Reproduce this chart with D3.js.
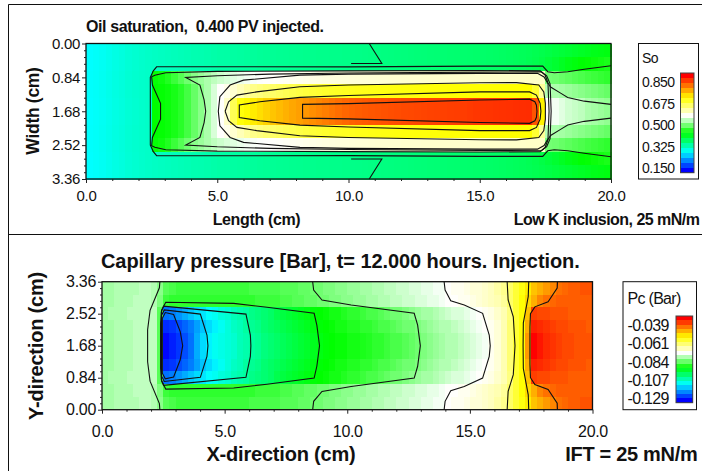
<!DOCTYPE html>
<html>
<head>
<meta charset="utf-8">
<script src="https://d3js.org/d3.v7.min.js"></script>
<style>
  body { margin: 0; background: #fff; }
  svg { display: block; font-family: "Liberation Sans", Arial, sans-serif; }
  text { white-space: pre; fill: #111; }
</style>
</head>
<body>
<script>
const w = 702;
const h = 471;

const xTicks = [0, 5, 10, 15, 20];
const xMinor = [1, 2, 3, 4, 6, 7, 8, 9, 11, 12, 13, 14, 16, 17, 18, 19];
const yTicks = [0, 0.84, 1.68, 2.52, 3.36];
const yMinor = [0.168, 0.336, 0.504, 0.672, 1.008, 1.176, 1.344, 1.512, 1.848, 2.016, 2.184, 2.352, 2.688, 2.856, 3.024, 3.192];

// colour stops
const rampColors = ['#0000ff', '#00ffff', '#00ff00', '#ffffff', '#ffff00', '#ff0000'];
const soStops = [0.112, 0.271, 0.432, 0.577, 0.731, 0.923];
const pcStops = [-0.1345, -0.113, -0.0915, -0.0722, -0.0518, -0.027];
const soLegend = [0.85, 0.675, 0.5, 0.325, 0.15];
const pcLegend = [-0.039, -0.061, -0.084, -0.107, -0.129];

// oil saturation, one array per grid row (80 cells of 0.25 cm), outer row first
const soRow1 = [
  .271,.274,.278,.283,.288,.292,.297,.300,.303,.306,
  .308,.310,.312,.314,.316,.318,.320,.321,.323,.325,
  .327,.328,.330,.331,.333,.334,.336,.337,.338,.339,
  .340,.341,.342,.343,.343,.344,.344,.345,.345,.346,
  .346,.347,.348,.349,.350,.351,.352,.353,.354,.355,
  .356,.357,.358,.359,.360,.361,.362,.363,.364,.365,
  .366,.367,.368,.370,.372,.374,.376,.378,.381,.384,
  .388,.392,.396,.400,.404,.408,.412,.416,.419,.422];
const soRow2 = [
  .271,.274,.278,.283,.288,.292,.297,.300,.303,.306,
  .308,.310,.312,.314,.316,.318,.320,.321,.323,.325,
  .327,.328,.330,.331,.333,.334,.336,.337,.338,.339,
  .340,.341,.342,.343,.343,.344,.344,.345,.345,.346,
  .346,.347,.348,.349,.350,.351,.352,.353,.354,.355,
  .356,.357,.358,.359,.360,.361,.362,.363,.364,.365,
  .366,.367,.368,.370,.372,.374,.376,.379,.383,.388,
  .395,.402,.410,.418,.424,.430,.434,.438,.442,.446];
const soRow3 = [
  .272,.275,.279,.284,.289,.293,.298,.301,.304,.306,
  .435,.440,.450,.465,.480,.495,.510,.520,.530,.540,
  .548,.555,.560,.565,.570,.573,.576,.578,.580,.582,
  .584,.586,.588,.590,.592,.594,.596,.597,.598,.599,
  .600,.601,.602,.603,.604,.604,.605,.605,.606,.606,
  .606,.607,.607,.607,.608,.608,.608,.608,.608,.608,
  .609,.609,.609,.609,.609,.609,.609,.610,.610,.610,
  .498,.495,.490,.485,.480,.475,.470,.466,.462,.458];
const soRow4 = [
  .272,.275,.279,.284,.289,.293,.298,.301,.304,.306,
  .432,.434,.438,.445,.455,.470,.490,.510,.530,.555,
  .578,.590,.605,.620,.635,.648,.655,.662,.668,.674,
  .680,.685,.690,.694,.698,.701,.704,.707,.709,.711,
  .713,.715,.716,.718,.719,.720,.721,.722,.723,.724,
  .725,.725,.726,.727,.727,.728,.728,.729,.729,.730,
  .730,.730,.731,.731,.731,.731,.731,.731,.700,.640,
  .535,.530,.525,.520,.515,.510,.505,.500,.495,.490];
const soRow5 = [
  .271,.274,.278,.283,.288,.292,.297,.300,.303,.306,
  .432,.434,.438,.445,.455,.470,.490,.510,.530,.555,
  .578,.610,.680,.725,.735,.745,.755,.765,.775,.782,
  .790,.797,.803,.810,.816,.822,.828,.834,.840,.846,
  .850,.853,.856,.858,.860,.862,.864,.866,.868,.869,
  .870,.872,.873,.874,.875,.876,.877,.878,.880,.882,
  .883,.884,.885,.886,.887,.888,.889,.890,.860,.740,
  .578,.570,.560,.550,.545,.540,.530,.525,.520,.515];
const soGrid = [soRow1, soRow2, soRow3, soRow4, soRow5, soRow5, soRow4, soRow3, soRow2, soRow1];

// capillary pressure, same grid
const pcRow1 = [
  -.079,-.079,-.078,-.078,-.078,-.078,-.077,-.077,-.078,-.081,
  -.085,-.086,-.087,-.087,-.087,-.087,-.087,-.087,-.087,-.087,
  -.087,-.087,-.087,-.087,-.086,-.086,-.086,-.086,-.086,-.085,
  -.085,-.085,-.084,-.084,-.083,-.083,-.082,-.082,-.081,-.081,
  -.080,-.080,-.079,-.079,-.078,-.078,-.077,-.077,-.076,-.076,
  -.075,-.075,-.074,-.074,-.073,-.073,-.072,-.071,-.071,-.070,
  -.069,-.069,-.068,-.067,-.065,-.063,-.060,-.056,-.053,-.050,
  -.046,-.044,-.042,-.040,-.038,-.037,-.036,-.036,-.035,-.035];
const pcRow2 = [
  -.079,-.079,-.078,-.078,-.078,-.077,-.077,-.077,-.078,-.082,
  -.087,-.088,-.088,-.088,-.088,-.088,-.088,-.088,-.088,-.088,
  -.088,-.088,-.088,-.088,-.088,-.087,-.087,-.087,-.087,-.086,
  -.086,-.085,-.085,-.084,-.084,-.083,-.083,-.082,-.082,-.081,
  -.081,-.080,-.080,-.079,-.079,-.078,-.078,-.077,-.077,-.076,
  -.076,-.075,-.075,-.074,-.074,-.073,-.072,-.072,-.071,-.071,
  -.070,-.069,-.068,-.067,-.066,-.064,-.060,-.056,-.052,-.048,
  -.044,-.040,-.038,-.037,-.036,-.036,-.036,-.036,-.036,-.036];
const pcRow3 = [
  -.079,-.078,-.078,-.078,-.077,-.077,-.077,-.077,-.077,-.085,
  -.125,-.124,-.122,-.120,-.118,-.116,-.115,-.113,-.112,-.110,
  -.109,-.107,-.106,-.105,-.103,-.102,-.101,-.100,-.098,-.097,
  -.096,-.095,-.094,-.093,-.092,-.0915,-.091,-.090,-.090,-.089,
  -.088,-.088,-.087,-.086,-.086,-.085,-.084,-.083,-.083,-.082,
  -.081,-.080,-.079,-.079,-.078,-.077,-.076,-.075,-.075,-.074,
  -.073,-.072,-.071,-.070,-.068,-.066,-.062,-.056,-.052,-.046,
  -.033,-.034,-.034,-.035,-.035,-.035,-.036,-.036,-.036,-.036];
const pcRow4 = [
  -.079,-.079,-.078,-.078,-.078,-.077,-.077,-.077,-.077,-.085,
  -.131,-.130,-.128,-.126,-.124,-.121,-.118,-.116,-.114,-.112,
  -.110,-.108,-.107,-.105,-.104,-.103,-.101,-.100,-.099,-.098,
  -.097,-.096,-.095,-.094,-.093,-.092,-.0915,-.091,-.090,-.090,
  -.089,-.089,-.088,-.088,-.087,-.086,-.086,-.085,-.084,-.083,
  -.083,-.082,-.081,-.080,-.079,-.078,-.078,-.077,-.076,-.075,
  -.074,-.073,-.072,-.071,-.069,-.066,-.061,-.056,-.052,-.044,
  -.030,-.031,-.032,-.033,-.034,-.034,-.035,-.035,-.035,-.036];
const pcRow5 = [
  -.079,-.079,-.078,-.078,-.078,-.077,-.077,-.077,-.077,-.085,
  -.134,-.132,-.130,-.128,-.125,-.120,-.116,-.114,-.112,-.111,
  -.110,-.109,-.107,-.106,-.105,-.104,-.102,-.101,-.100,-.099,
  -.098,-.097,-.096,-.095,-.094,-.093,-.092,-.0915,-.091,-.091,
  -.090,-.090,-.0895,-.089,-.088,-.088,-.087,-.086,-.086,-.085,
  -.084,-.083,-.082,-.081,-.080,-.079,-.078,-.078,-.077,-.076,
  -.075,-.074,-.073,-.071,-.069,-.066,-.061,-.056,-.052,-.042,
  -.027,-.029,-.031,-.032,-.033,-.034,-.034,-.035,-.035,-.035];
const pcGrid = [pcRow1, pcRow2, pcRow3, pcRow4, pcRow5, pcRow5, pcRow4, pcRow3, pcRow2, pcRow1];

// contour lines in cm, half of each line, the other half is its mirror image over y = 1.68
const soLineA = [[20,.553],[18.98,.64],[18.35,.70],[17.84,.727],[17.59,.70],[17.4,.56],[15,.56],[10,.58],[5,.575],[2.69,.578],[2.565,.677],[2.45,.842],[2.45,1.68]];
const soLineB = [[20,1.51],[18.98,1.43],[18.35,1.34],[18.08,1.23],[17.7,1.08],[17.6,.98],[17.49,.785],[17.3,.678],[15,.67],[10,.68],[5,.69],[3.04,.727],[2.62,.785],[2.5,.826],[2.53,1.03],[2.84,1.485],[2.84,1.68]];
const soLineC = [[4.56,1.68],[4.5,1.40],[4.34,1.03],[3.8,.842],[5,.80],[7,.76],[10,.73],[15,.71],[17.35,.70],[17.55,.80],[17.68,1.0],[17.72,1.68]];
const soLineD = [[5.04,1.68],[5.1,1.32],[5.49,1.03],[6,.908],[8.15,.785],[10,.76],[15,.74],[17.2,.74],[17.45,.83],[17.6,1.0],[17.64,1.68]];
const soLineE = [[5.3,1.68],[5.43,1.445],[5.75,1.28],[6.5,1.2],[8.15,1.074],[10,1.03],[15,.975],[16.4,.97],[17.25,1.03],[17.44,1.2],[17.5,1.485],[17.5,1.68]];
const soLineF = [[5.84,1.68],[5.84,1.527],[6.62,1.445],[8.15,1.337],[10,1.29],[15,1.2],[16.9,1.2],[17.16,1.28],[17.3,1.485],[17.33,1.68]];
const soLineG = [[8.25,1.68],[8.25,1.51],[10,1.49],[15,1.4],[16.9,1.38],[17.1,1.445],[17.16,1.53],[17.18,1.68]];
const soWedge = [[10.79,0],[11.27,.495],[10.1,.495]];
const soLines = [soLineA, soLineB, soLineC, soLineD, soLineE, soLineF, soLineG, soWedge];

const pcLine1 = [[2.36,3.36],[2.34,3.2],[1.96,2.61],[1.86,2.1],[1.86,1.68]];
const pcLine2 = [[2.39,1.68],[2.39,2.27],[2.43,2.61],[2.6,2.82],[5.37,2.79],[6.73,2.69],[8.65,2.53],[8.76,2.22],[8.87,1.68]];
const pcLine3 = [[8.59,3.36],[8.63,3.14],[8.97,2.88],[10.16,2.75],[12.73,2.53],[12.87,2.22],[12.98,1.68]];
const pcLine4 = [[2.42,1.68],[2.42,2.57],[2.51,2.72],[5.87,2.51],[6.05,1.96],[6.07,1.68]];
const pcLine5 = [[2.43,1.68],[2.43,2.48],[2.54,2.62],[4.01,2.51],[4.28,1.96],[4.32,1.68]];
const pcLine6 = [[2.46,1.68],[2.46,2.4],[2.58,2.55],[2.92,2.5],[3.19,2.05],[3.29,1.68]];
const pcLine7 = [[13.95,3.36],[13.99,3.14],[14.22,2.86],[14.77,2.75],[15.52,2.53],[15.79,1.96],[15.83,1.68]];
const pcLine8 = [[16.52,3.36],[16.56,2.88],[16.77,2.44],[16.84,1.68]];
const pcLine9 = [[17.4,3.36],[17.38,2.97],[17.18,2.28],[17.17,1.68]];
const pcLine10 = [[18.57,3.36],[18.56,3.19],[18.19,2.83],[17.65,2.7],[17.47,2.52],[17.45,2.17],[17.45,1.68]];
const pcLines = [pcLine1, pcLine2, pcLine3, pcLine4, pcLine5, pcLine6, pcLine7, pcLine8, pcLine9, pcLine10];

let svg = d3.select("body")
  .append("svg")
  .attr("width", w)
  .attr("height", h);

// outer frames of the two panels
svg.append("path")
  .attr("d", "M702,4.5H8.5V471M8.5,234.5H702")
  .attr("fill", "none")
  .attr("stroke", "#111");

let addText = (str, x, y, size, bold, anchor, spacing) => svg.append("text")
  .attr("x", x)
  .attr("y", y)
  .attr("font-size", size)
  .attr("font-weight", bold ? "bold" : "normal")
  .attr("text-anchor", anchor || "start")
  .attr("letter-spacing", spacing || 0)
  .text(str);

let drawPanel = (p) => {
  let xScale = d3.scaleLinear().domain([0, 20]).range([p.left, p.right]);
  let yScale = d3.scaleLinear().domain(p.yDomain).range([p.top, p.bottom]);
  let color = d3.scaleLinear().domain(p.stops).range(rampColors).clamp(true);

  // cells
  let g = svg.append("g").attr("shape-rendering", "crispEdges");
  p.grid.forEach((row, r) => {
    let rowTop = p.yDomain[0] < p.yDomain[1] ? r * 0.336 : 3.36 - r * 0.336;
    let rowEnd = p.yDomain[0] < p.yDomain[1] ? rowTop + 0.336 : rowTop - 0.336;
    g.selectAll(".r" + r)
      .data(row)
      .enter()
      .append("rect")
      .attr("class", "r" + r)
      .attr("x", (d, i) => xScale(i * 0.25))
      .attr("y", yScale(rowTop))
      .attr("width", xScale(0.25) - xScale(0) + 0.6)
      .attr("height", yScale(rowEnd) - yScale(rowTop) + 0.6)
      .attr("fill", (d) => color(d));
  });

  // contour lines, each one with its mirror half
  let line = d3.line().x((d) => xScale(d[0])).y((d) => yScale(d[1]));
  p.lines.forEach((half) => {
    let mirrored = half.map((d) => [d[0], 3.36 - d[1]]);
    let onCentre = half[half.length - 1][1] === 1.68;
    let paths = onCentre ? [half.concat(mirrored.slice().reverse())] : [half, mirrored];
    paths.forEach((pts) => {
      svg.append("path")
        .attr("d", line(pts))
        .attr("fill", "none")
        .attr("stroke", "#111")
        .attr("stroke-width", 1.1);
    });
  });

  svg.append("rect")
    .attr("x", p.left)
    .attr("y", p.top)
    .attr("width", p.right - p.left)
    .attr("height", p.bottom - p.top)
    .attr("fill", "none")
    .attr("stroke", "#111")
    .attr("stroke-width", 1.3);

  // axes
  let xAxis = d3.axisBottom(xScale).tickValues(xTicks).tickSize(4).tickSizeOuter(0).tickPadding(p.xPad).tickFormat(d3.format(".1f"));
  let xAxisG = svg.append("g").attr("transform", "translate(0," + p.bottom + ")").call(xAxis);
  let xMinorG = svg.append("g").attr("transform", "translate(0," + p.bottom + ")")
    .call(d3.axisBottom(xScale).tickValues(xMinor).tickSize(2).tickSizeOuter(0).tickFormat(""));
  let yAxis = d3.axisLeft(yScale).tickValues(yTicks).tickSize(4).tickSizeOuter(0).tickPadding(2).tickFormat(d3.format(".2f"));
  let yAxisG = svg.append("g").attr("transform", "translate(" + p.left + ",0)").call(yAxis);
  let yMinorG = svg.append("g").attr("transform", "translate(" + p.left + ",0)")
    .call(d3.axisLeft(yScale).tickValues(yMinor).tickSize(2).tickSizeOuter(0).tickFormat(""));
  [xAxisG, xMinorG, yAxisG, yMinorG].forEach((a) => {
    a.select(".domain").remove();
    a.selectAll("text")
      .attr("font-size", p.tickFont)
      .attr("letter-spacing", -0.3)
      .attr("font-family", '"Liberation Sans", Arial, sans-serif');
    a.selectAll("line").attr("stroke", "#222");
  });

  // legend
  let lg = p.legend;
  svg.append("rect")
    .attr("x", lg.x0 + 0.5)
    .attr("y", p.top)
    .attr("width", lg.x1 - lg.x0)
    .attr("height", p.bottom - p.top)
    .attr("fill", "#fff")
    .attr("stroke", "#111");
  let barDomain = [lg.hi, lg.lo];
  let barScale = d3.scaleLinear().domain(barDomain).range([lg.barTop, lg.barBottom]);
  let bands = d3.range(20);
  let bandH = (lg.barBottom - lg.barTop) / 20;
  let bandColor = (i) => color(lg.hi - (lg.hi - lg.lo) * i / 19);
  svg.append("g").attr("shape-rendering", "crispEdges")
    .selectAll("rect")
    .data(bands)
    .enter()
    .append("rect")
    .attr("x", lg.barX0)
    .attr("y", (i) => lg.barTop + i * bandH)
    .attr("width", lg.barX1 - lg.barX0)
    .attr("height", bandH + 0.5)
    .attr("fill", bandColor);
  svg.append("rect")
    .attr("x", lg.barX0)
    .attr("y", lg.barTop)
    .attr("width", lg.barX1 - lg.barX0)
    .attr("height", lg.barBottom - lg.barTop)
    .attr("fill", "none")
    .attr("stroke", "#444");
  lg.values.forEach((v) => {
    addText(d3.format(".3f")(v).replace("−", "-"), lg.x0 + lg.textDx, barScale(v) + lg.font * 0.36, lg.font, false, "start", lg.spacing);
  });
  addText(lg.title, lg.x0 + lg.textDx + (lg.titleDx || 0), lg.titleY, lg.font, false, "start", lg.spacing);
};

drawPanel({
  left: 86, right: 611, top: 43.5, bottom: 179,
  yDomain: [0, 3.36],
  grid: soGrid, stops: soStops, lines: soLines,
  tickFont: 15, xPad: 7.4,
  legend: {
    x0: 638, x1: 698, barX0: 680.5, barX1: 694, barTop: 73, barBottom: 172.7,
    hi: 0.923, lo: 0.112, values: soLegend, title: "So", titleY: 63,
    textDx: 4, font: 14, spacing: -0.5
  }
});

drawPanel({
  left: 102, right: 592.5, top: 281.7, bottom: 409.7,
  yDomain: [3.36, 0],
  grid: pcGrid, stops: pcStops, lines: pcLines,
  tickFont: 16, xPad: 11.6,
  legend: {
    x0: 622.5, x1: 696, barX0: 676, barX1: 692.7, barTop: 316, barBottom: 402.7,
    hi: -0.027, lo: -0.1345, values: pcLegend, title: "Pc (Bar)", titleY: 304,
    textDx: 5, font: 16, spacing: -0.7
  }
});

addText("Oil saturation,  0.400 PV injected.", 86, 32, 16, true, "start", -0.4);
addText("Length (cm)", 256.5, 225, 16, true, "middle", -0.35);
addText("Low K inclusion, 25 mN/m", 699.5, 225, 16, true, "end", -0.52);
addText("Capillary pressure [Bar], t= 12.000 hours. Injection.", 101, 268, 20, true, "start", -0.08);
addText("X-direction (cm)", 281, 461, 20, true, "middle", -0.2);
addText("IFT = 25 mN/m", 697.5, 461, 20, true, "end", -0.3);
addText("Width (cm)", 0, 0, 17.5, true, "middle", -0.3)
  .attr("transform", "translate(39,111) rotate(-90)");
addText("Y-direction (cm)", 0, 0, 20, true, "middle", -0.2)
  .attr("transform", "translate(43,346) rotate(-90)");
</script>
</body>
</html>
